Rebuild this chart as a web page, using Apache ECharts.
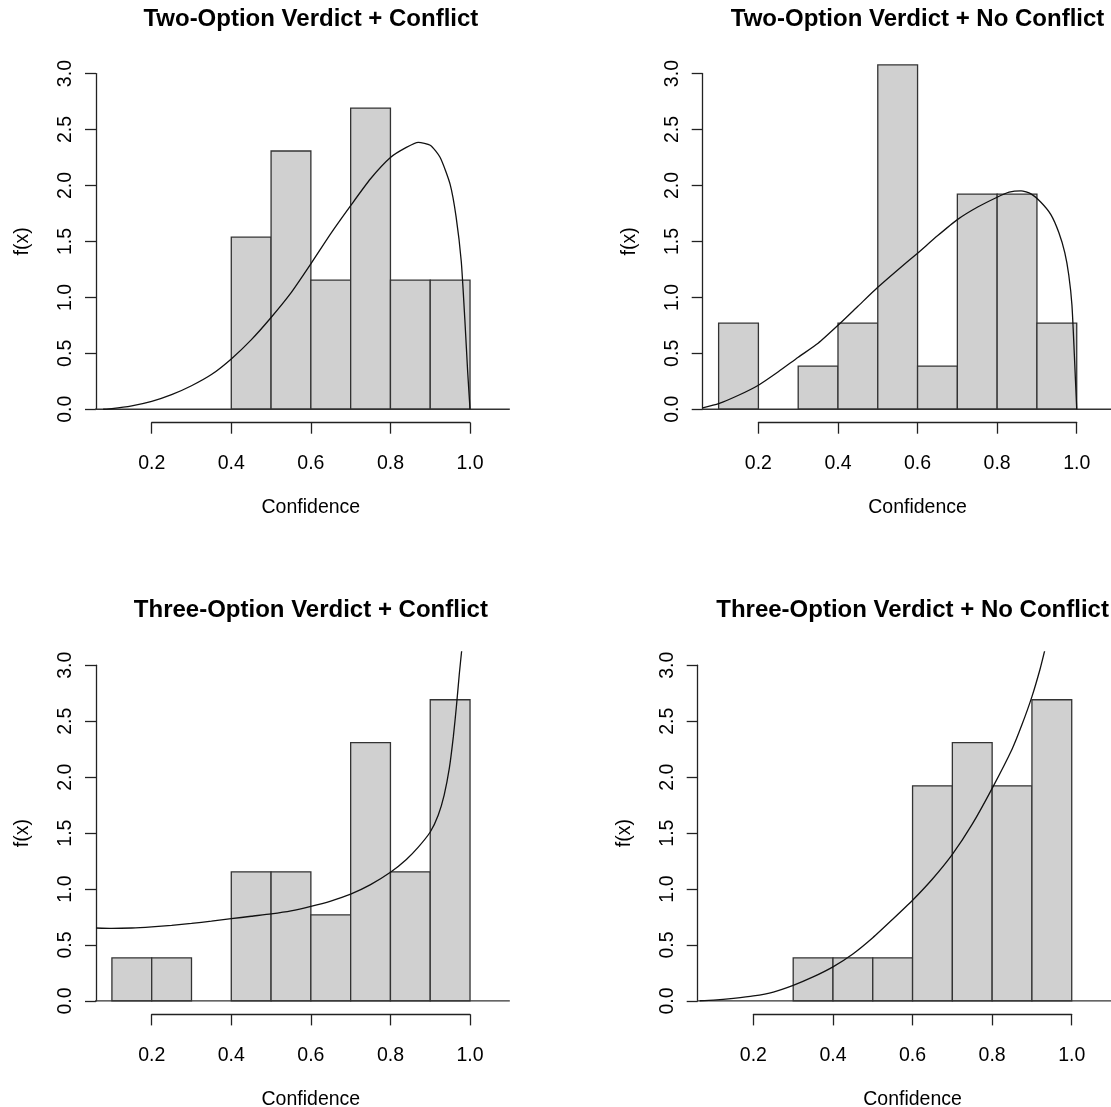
<!DOCTYPE html>
<html><head><meta charset="utf-8">
<script src="https://cdn.jsdelivr.net/npm/echarts@6/dist/echarts.min.js"></script>
<style>html,body{margin:0;padding:0;background:#fff}#c{width:1111px;height:1107px}</style>
</head><body><div id="c"></div>
<script>
// ---------- data ----------
const titles = [
  'Two-Option Verdict + Conflict',
  'Two-Option Verdict + No Conflict',
  'Three-Option Verdict + Conflict',
  'Three-Option Verdict + No Conflict'
];
const xLabelName = 'Confidence';
const yLabelName = 'f(x)';
const binEdges = [0.1, 0.2, 0.3, 0.4, 0.5, 0.6, 0.7, 0.8, 0.9, 1.0];
const densTwoConflict     = [0, 0, 0, 1.538, 2.308, 1.154, 2.692, 1.154, 1.154];
const densTwoNoConflict   = [0.769, 0, 0.385, 0.769, 3.077, 0.385, 1.923, 1.923, 0.769];
const densThreeConflict   = [0.385, 0.385, 0, 1.154, 1.154, 0.769, 2.308, 1.154, 2.692];
const densThreeNoConflict = [0, 0, 0.385, 0.385, 0.385, 1.923, 2.308, 1.923, 2.692];

const curveTwoConflict = [
  [0.078,0.0],[0.1,0.005],[0.15,0.03],[0.2,0.07],[0.25,0.13],[0.3,0.21],[0.35,0.31],
  [0.4,0.45],[0.45,0.62],[0.5,0.82],[0.55,1.04],[0.6,1.30],[0.65,1.57],[0.7,1.82],
  [0.75,2.06],[0.8,2.25],[0.84,2.34],[0.87,2.385],[0.9,2.36],[0.925,2.25],[0.95,2.01],
  [0.965,1.72],[0.978,1.32],[0.987,0.80],[0.994,0.34],[1.0,0.0]
];
const curveTwoNoConflict = [
  [0.06,0.012],[0.1,0.05],[0.15,0.125],[0.2,0.215],[0.25,0.335],[0.3,0.465],[0.35,0.59],
  [0.4,0.75],[0.45,0.92],[0.5,1.09],[0.55,1.245],[0.6,1.395],[0.65,1.55],[0.7,1.695],
  [0.75,1.805],[0.8,1.895],[0.83,1.94],[0.86,1.952],[0.885,1.925],[0.91,1.85],[0.935,1.74],
  [0.955,1.58],[0.97,1.40],[0.98,1.20],[0.988,0.93],[0.994,0.49],[1.0,0.0]
];
const curveThreeConflict = [
  [0.06,0.652],[0.1,0.648],[0.15,0.652],[0.2,0.662],[0.25,0.675],[0.3,0.693],[0.35,0.713],
  [0.4,0.735],[0.45,0.757],[0.5,0.778],[0.55,0.805],[0.6,0.845],[0.65,0.893],[0.7,0.955],
  [0.75,1.04],[0.8,1.15],[0.84,1.265],[0.87,1.375],[0.9,1.51],[0.92,1.66],[0.935,1.84],
  [0.948,2.08],[0.958,2.36],[0.966,2.64],[0.973,2.92],[0.979,3.13]
];
const curveThreeNoConflict = [
  [0.065,0.002],[0.1,0.008],[0.15,0.024],[0.2,0.045],[0.25,0.08],[0.3,0.14],[0.35,0.215],
  [0.4,0.305],[0.45,0.42],[0.5,0.565],[0.55,0.73],[0.6,0.9],[0.65,1.09],[0.7,1.31],
  [0.75,1.58],[0.8,1.9],[0.85,2.25],[0.875,2.47],[0.9,2.72],[0.92,2.96],[0.932,3.13]
];
const xTicks = [0.2, 1.0, 0.2];      // min, max, step
const yTicks = [0, 3, 0.5];          // min, max, step
const plotXRange = [0.06, 1.14];
const plotYRange = [-0.12, 3.12];
const baselineRange = [0.032, 1.1];

const densities = [densTwoConflict, densTwoNoConflict, densThreeConflict, densThreeNoConflict];
const curves = [curveTwoConflict, curveTwoNoConflict, curveThreeConflict, curveThreeNoConflict];

// ---------- layout ----------
const panelPos = [ [96, 422.7], [702.7, 422.7], [96, 1014.4], [697.7, 1014.4] ]; // region left, region bottom
const XPPU = 397.9, YPPU = 111.9;
const FONT = "'Liberation Sans', Arial, Helvetica, sans-serif";
const INK = '#222';

const grid = [], xAxis = [], yAxis = [], series = [], title = [];
panelPos.forEach((pp, i) => {
  const L = pp[0], B = pp[1];
  const W = (plotXRange[1] - plotXRange[0]) * XPPU;
  const H = (plotYRange[1] - plotYRange[0]) * YPPU;
  const T = B - H;
  // main plot grid
  const gMain = grid.length;
  grid.push({left: L, top: T, width: W, height: H, containLabel: false, outerBoundsMode: 'none'});
  xAxis.push({gridIndex: gMain, type: 'value', min: plotXRange[0], max: plotXRange[1], show: false});
  yAxis.push({gridIndex: gMain, type: 'value', min: plotYRange[0], max: plotYRange[1], show: false});
  // y-axis grid
  const gY = grid.length;
  grid.push({left: L, top: B - (yTicks[1] - plotYRange[0]) * YPPU, width: 10,
    height: (yTicks[1] - yTicks[0]) * YPPU, containLabel: false, outerBoundsMode: 'none'});
  xAxis.push({gridIndex: gY, type: 'value', show: false, min: 0, max: 1});
  yAxis.push({
    gridIndex: gY, type: 'value', min: yTicks[0], max: yTicks[1], interval: yTicks[2], position: 'left',
    axisLine: {show: true, lineStyle: {color: INK, width: 1.3}},
    axisTick: {show: true, length: 11, lineStyle: {color: INK, width: 1.3}},
    splitLine: {show: false},
    axisLabel: {show: true, rotate: 90, margin: 20, fontSize: 19.5, color: '#000', fontFamily: FONT,
      showMinLabel: true, showMaxLabel: true, formatter: v => v.toFixed(1)},
    name: yLabelName, nameLocation: 'middle', nameRotate: 90, nameGap: 63,
    nameTextStyle: {fontSize: 19.5, color: '#000', fontFamily: FONT}
  });
  // x-axis grid
  const gX = grid.length;
  grid.push({left: L + (xTicks[0] - plotXRange[0]) * XPPU, top: B - 10, width: (xTicks[1] - xTicks[0]) * XPPU,
    height: 10, containLabel: false, outerBoundsMode: 'none'});
  yAxis.push({gridIndex: gX, type: 'value', show: false, min: 0, max: 1});
  xAxis.push({
    gridIndex: gX, type: 'value', min: xTicks[0], max: xTicks[1], interval: xTicks[2], position: 'bottom',
    axisLine: {show: true, lineStyle: {color: INK, width: 1.3}},
    axisTick: {show: true, length: 11, lineStyle: {color: INK, width: 1.3}},
    splitLine: {show: false},
    axisLabel: {show: true, margin: 31, fontSize: 19.5, color: '#000', fontFamily: FONT,
      showMinLabel: true, showMaxLabel: true, formatter: v => v.toFixed(1)},
    name: xLabelName, nameLocation: 'middle', nameGap: 75,
    nameTextStyle: {fontSize: 19.5, color: '#000', fontFamily: FONT}
  });
  // title
  title.push({text: titles[i], left: L + W / 2, textAlign: 'center', top: T - 53, padding: 0,
    textStyle: {fontSize: 24, fontWeight: 'bold', color: '#000', fontFamily: FONT}});
  // bars
  const barData = densities[i].map((d, k) => [binEdges[k], binEdges[k + 1], d]);
  series.push({
    type: 'custom', xAxisIndex: gMain, yAxisIndex: gMain, data: barData,
    encode: {x: [0, 1], y: 2}, silent: true,
    renderItem: (params, api) => {
      const h = api.value(2);
      if (!(h > 0)) return null;
      const p0 = api.coord([api.value(0), h]);
      const p1 = api.coord([api.value(1), 0]);
      return {type: 'rect', shape: {x: p0[0], y: p0[1], width: p1[0] - p0[0], height: p1[1] - p0[1]},
        style: {fill: '#d0d0d0', stroke: '#333', lineWidth: 1.3}};
    }
  });
  // baseline
  series.push({type: 'line', xAxisIndex: gMain, yAxisIndex: gMain, clip: false, silent: true,
    data: [[baselineRange[0], 0], [baselineRange[1], 0]], showSymbol: false, symbol: 'none',
    lineStyle: {color: '#333', width: 1.3}});
  // density curve
  series.push({type: 'line', xAxisIndex: gMain, yAxisIndex: gMain, clip: true, silent: true,
    data: curves[i], showSymbol: false, symbol: 'none', smooth: 0.2,
    lineStyle: {color: '#111', width: 1.3}});
});

const chart = echarts.init(document.getElementById('c'), null, {renderer: 'canvas'});
chart.setOption({animation: false, backgroundColor: '#fff', title, grid, xAxis, yAxis, series});
</script>
</body></html>
